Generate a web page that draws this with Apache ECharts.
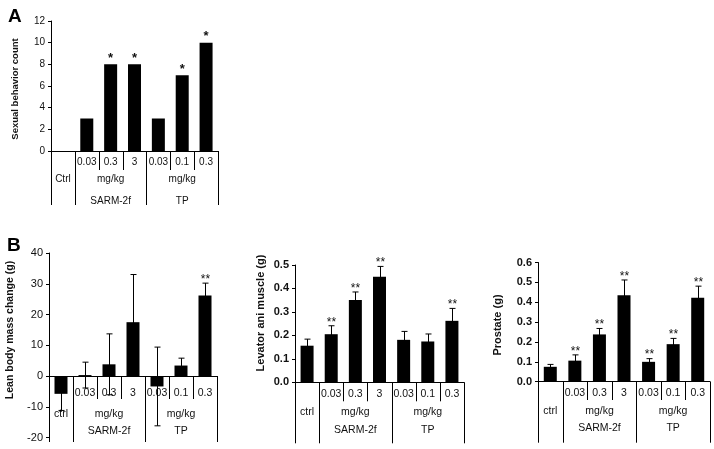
<!DOCTYPE html>
<html><head><meta charset="utf-8">
<script src="https://cdn.jsdelivr.net/npm/echarts@6/dist/echarts.min.js"></script>
<style>html,body{margin:0;padding:0;background:#fff}#c{width:714px;height:449px}</style>
</head><body><div id="c"></div>
<script>
// ---- data ----
const categories = ['ctrl', '0.03', '0.3', '3', '0.03', '0.1', '0.3'];
const doseLabels = ['', '0.03', '0.3', '3', '0.03', '0.1', '0.3'];
const unitRowA = ['Ctrl', 'mg/kg', 'mg/kg'];
const unitRowB = ['ctrl', 'mg/kg', 'mg/kg'];
const groupRow = ['', 'SARM-2f', 'TP'];
const groupSpans = [[0, 0], [1, 3], [4, 6]];

const sexualCounts = [0, 3, 8, 8, 3, 7, 10];
const sexualStars = ['', '', '*', '*', '', '*', '*'];

const leanMean = [-5.8, 0.3, 3.8, 17.5, -3.4, 3.4, 26.2];
const leanErr = [5.4, 4.2, 9.9, 15.5, 12.8, 2.4, 4.0];
const leanStars = ['', '', '', '', '', '', '**'];

const levatorMean = [0.156, 0.205, 0.351, 0.450, 0.181, 0.174, 0.262];
const levatorErr = [0.028, 0.036, 0.034, 0.044, 0.036, 0.032, 0.053];
const levatorStars = ['', '**', '**', '**', '', '', '**'];

const prostateMean = [0.075, 0.106, 0.238, 0.435, 0.100, 0.189, 0.422];
const prostateErr = [0.012, 0.029, 0.030, 0.077, 0.016, 0.029, 0.059];
const prostateStars = ['', '**', '**', '**', '**', '**', '**'];

const axisTitles = ['Sexual behavior count', 'Lean body mass change (g)', 'Levator ani muscle (g)', 'Prostate (g)'];

// ---- helpers ----
const FONT = '"Liberation Sans", Arial, sans-serif';

function tableSeries(gi, unitRow, rows, fs) {
  return {
    type: 'custom', xAxisIndex: gi, yAxisIndex: gi, clip: false, silent: true, z: 1,
    data: [[0, 0]],
    renderItem: function (params, api) {
      const bw = api.size([1, 0])[0];
      const base = api.coord([0, 0])[1];
      const bx = k => k < 7 ? api.coord([k, 0])[0] - bw / 2 : api.coord([6, 0])[0] + bw / 2;
      const children = [];
      const line = (x, y1, y2) => children.push({
        type: 'line', shape: { x1: Math.round(x) + 0.5, y1: y1, x2: Math.round(x) + 0.5, y2: y2 },
        style: { stroke: '#000', lineWidth: 1 }
      });
      const text = (x, y, t) => children.push({
        type: 'text', x: x, y: y,
        style: { text: t, textAlign: 'center', textVerticalAlign: 'middle', verticalAlign: 'middle',
          font: fs + 'px ' + FONT, fill: '#111' }
      });
      [0, 1, 4, 7].forEach(k => line(bx(k), base, base + rows.longEnd));
      [2, 3, 5, 6].forEach(k => line(bx(k), base, base + rows.shortEnd));
      doseLabels.forEach((t, i) => { if (t) text(api.coord([i, 0])[0], base + rows.dose, t); });
      groupSpans.forEach((s, g) => {
        const cx = (bx(s[0]) + bx(s[1] + 1)) / 2;
        text(cx, base + rows.unit, unitRow[g]);
        if (groupRow[g]) text(cx, base + rows.group, groupRow[g]);
      });
      return { type: 'group', children: children };
    }
  };
}

function errSeries(gi, mean, err, stars, starFs) {
  return {
    type: 'custom', xAxisIndex: gi, yAxisIndex: gi, clip: false, silent: true, z: 3,
    data: mean.map((m, i) => [i, m, err[i]]),
    renderItem: function (params, api) {
      const i = api.value(0), m = api.value(1), e = api.value(2);
      const pt = api.coord([i, m + e]);
      const pb = api.coord([i, m - e]);
      const x = Math.round(pt[0]) + 0.5;
      const st = { stroke: '#000', lineWidth: 1 };
      const children = [
        { type: 'line', shape: { x1: x, y1: pt[1], x2: x, y2: pb[1] }, style: st },
        { type: 'line', shape: { x1: x - 3, y1: pt[1], x2: x + 3, y2: pt[1] }, style: st },
        { type: 'line', shape: { x1: x - 3, y1: pb[1], x2: x + 3, y2: pb[1] }, style: st }
      ];
      const s = stars[params.dataIndex];
      if (s) children.push({
        type: 'text', x: x, y: pt[1] - 3.5,
        style: { text: s, textAlign: 'center', textVerticalAlign: 'middle', verticalAlign: 'middle',
          font: starFs + 'px ' + FONT, fill: '#111' }
      });
      return { type: 'group', children: children };
    }
  };
}

function starSeriesA(gi, vals, stars) {
  return {
    type: 'custom', xAxisIndex: gi, yAxisIndex: gi, clip: false, silent: true, z: 3,
    data: vals.map((v, i) => [i, v]),
    renderItem: function (params, api) {
      const s = stars[params.dataIndex];
      if (!s) return null;
      const p = api.coord([api.value(0), api.value(1)]);
      return { type: 'text', x: p[0], y: p[1] - 6,
        style: { text: s, textAlign: 'center', textVerticalAlign: 'middle', verticalAlign: 'middle',
          font: 'bold 13px ' + FONT, fill: '#111' } };
    }
  };
}

function xAxis(gi) {
  return {
    type: 'category', gridIndex: gi, data: categories,
    axisLine: { onZero: true, lineStyle: { color: '#000', width: 1 } },
    axisTick: { show: false }, axisLabel: { show: false }, splitLine: { show: false }
  };
}
function yAxis(gi, min, max, interval, labelBold, decimals, fs) {
  return {
    type: 'value', gridIndex: gi, min: min, max: max, interval: interval,
    axisLine: { show: true, lineStyle: { color: '#000', width: 1 } },
    axisTick: { show: true, inside: false, length: 3, lineStyle: { color: '#000' } },
    axisLabel: { fontFamily: FONT, fontSize: fs, color: '#111', margin: 6,
      fontWeight: labelBold ? 'bold' : 'normal',
      formatter: v => decimals ? v.toFixed(decimals) : String(Math.round(v)) },
    splitLine: { show: false }
  };
}
function barSeries(gi, vals) {
  return { type: 'bar', xAxisIndex: gi, yAxisIndex: gi, data: vals, barWidth: 13,
    itemStyle: { color: '#000' }, z: 2, silent: true };
}
function vTitle(text, x, y, fs) {
  return { type: 'text', x: x, y: y, rotation: Math.PI / 2,
    style: { text: text, textAlign: 'center', textVerticalAlign: 'middle', verticalAlign: 'middle',
      font: 'bold ' + fs + 'px ' + FONT, fill: '#111' } };
}

const chart = echarts.init(document.getElementById('c'), null, { renderer: 'canvas' });
chart.setOption({
  animation: false,
  backgroundColor: '#fff',
  title: [
    { text: 'A', left: 3, top: 2, textStyle: { fontFamily: FONT, fontSize: 19, fontWeight: 'bold', color: '#000' } },
    { text: 'B', left: 2, top: 231, textStyle: { fontFamily: FONT, fontSize: 19, fontWeight: 'bold', color: '#000' } }
  ],
  graphic: [
    vTitle(axisTitles[0], 15, 89, 9.5),
    vTitle(axisTitles[1], 10, 330, 10.5),
    vTitle(axisTitles[2], 261, 313, 11),
    vTitle(axisTitles[3], 498, 325, 11)
  ],
  grid: [
    { left: 51, top: 21, width: 167, height: 130 },
    { left: 49, top: 253, width: 168, height: 184.5 },
    { left: 295, top: 265, width: 169, height: 117.3 },
    { left: 538, top: 262.5, width: 172, height: 119.2 }
  ],
  xAxis: [xAxis(0), xAxis(1), xAxis(2), xAxis(3)],
  yAxis: [
    yAxis(0, 0, 12, 2, false, 0, 10),
    yAxis(1, -20, 40, 10, false, 0, 11),
    yAxis(2, 0, 0.5, 0.1, true, 1, 11),
    yAxis(3, 0, 0.6, 0.1, true, 1, 11)
  ],
  series: [
    barSeries(0, sexualCounts),
    starSeriesA(0, sexualCounts, sexualStars),
    tableSeries(0, unitRowA, { dose: 11, unit: 28, group: 50, shortEnd: 19, longEnd: 54 }, 10),

    barSeries(1, leanMean),
    errSeries(1, leanMean, leanErr, leanStars, 12),
    tableSeries(1, unitRowB, { dose: 17, unit: 38.5, group: 55.5, shortEnd: 23, longEnd: 66 }, 10.5),

    barSeries(2, levatorMean),
    errSeries(2, levatorMean, levatorErr, levatorStars, 12),
    tableSeries(2, unitRowB, { dose: 12, unit: 30, group: 48, shortEnd: 19, longEnd: 61 }, 10.5),

    barSeries(3, prostateMean),
    errSeries(3, prostateMean, prostateErr, prostateStars, 12),
    tableSeries(3, unitRowB, { dose: 11.6, unit: 29.3, group: 46.6, shortEnd: 18.3, longEnd: 61 }, 10.5)
  ]
});
</script>
</body></html>
